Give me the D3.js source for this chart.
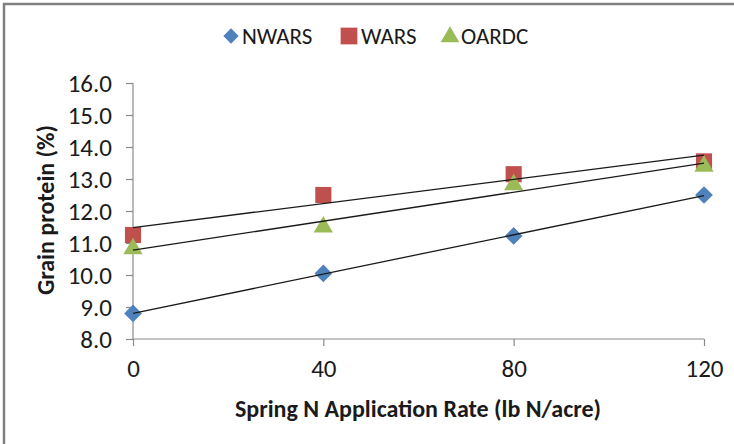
<!DOCTYPE html>
<html>
<head>
<meta charset="utf-8">
<script src="https://cdn.jsdelivr.net/npm/d3@7"></script>
<style>
  html, body { margin: 0; padding: 0; background: #fff; }
  svg { display: block; }
  text { font-family: Carlito, Calibri, Lato, "Open Sans", sans-serif; fill: #1a1a1a; }
</style>
</head>
<body>
<svg id="chart" width="734" height="444"></svg>
<script>
// ---- data ----
const rates = [0, 40, 80, 120];
const xTicks = [0, 40, 80, 120];
const yTicks = [8, 9, 10, 11, 12, 13, 14, 15, 16];
const seriesNames = ["NWARS", "WARS", "OARDC"];
const nwars = [8.8, 10.05, 11.22, 12.5];
const wars = [11.25, 12.5, 13.15, 13.55];
const oardc = [10.82, 11.5, 12.82, 13.4];
const seriesColors = ["#4F81BD", "#C0504D", "#9BBB59"];
const seriesShapes = [d3.symbolDiamond2, d3.symbolSquare, d3.symbolTriangle];
const xTitle = "Spring N Application Rate (lb N/acre)";
const yTitle = "Grain protein (%)";

const series = [nwars, wars, oardc].map((vals, i) => ({
  name: seriesNames[i], color: seriesColors[i], shape: seriesShapes[i],
  points: rates.map((r, j) => ({ x: r, y: vals[j] }))
}));

const svg = d3.select("#chart");

// outer frame (only left and top edges are visible in the reference)
svg.append("rect").attr("x", 4).attr("y", 4).attr("width", 800).attr("height", 600)
  .attr("fill", "none").attr("stroke", "#808080").attr("stroke-width", 2.5);

const x = d3.scaleLinear().domain([0, 120]).range([133, 704]);
const y = d3.scaleLinear().domain([8, 16]).range([339, 83]);

// axes
const axisColor = "#8a8a8a";
const gx = svg.append("g").attr("transform", `translate(0,${y(8)})`)
  .call(d3.axisBottom(x).tickValues(xTicks).tickFormat(d3.format("d")).tickSize(7).tickPadding(13));
const gy = svg.append("g").attr("transform", `translate(${x(0)},0)`)
  .call(d3.axisLeft(y).tickValues(yTicks).tickFormat(d3.format(".1f")).tickSize(7).tickPadding(14));
[gx, gy].forEach(g => {
  g.select(".domain").attr("stroke", axisColor).attr("stroke-width", 1.2);
  g.selectAll(".tick line").attr("stroke", axisColor).attr("stroke-width", 1.2);
  g.selectAll(".tick text").attr("font-size", 25).attr("fill", "#1a1a1a")
    .style("font-family", "Carlito, Calibri, Lato, sans-serif");
});
gx.select(".domain").attr("d", `M${x(0)},0H${x(120)}`);
gy.select(".domain").attr("d", `M0,${y(16)}V${y(8)}`);

// least-squares trendline per series
function trend(s) {
  const mx = d3.mean(s.points, p => p.x), my = d3.mean(s.points, p => p.y);
  const slope = d3.sum(s.points, p => (p.x - mx) * (p.y - my)) / d3.sum(s.points, p => (p.x - mx) ** 2);
  return { slope, b: my - slope * mx };
}

// markers
const sizes = [200, 260, 160];
series.forEach((s, i) => {
  svg.append("g").selectAll("path").data(s.points).join("path")
    .attr("d", d3.symbol().type(s.shape).size(sizes[i]))
    .attr("transform", p => `translate(${x(p.x)},${y(p.y)})`)
    .attr("fill", s.color);
});

// trendlines drawn over markers
series.forEach(s => {
  const t = trend(s);
  svg.append("line")
    .attr("x1", x(0)).attr("y1", y(t.b))
    .attr("x2", x(120)).attr("y2", y(t.b + t.slope * 120))
    .attr("stroke", "#1a1a1a").attr("stroke-width", 1.3);
});

// legend
const legendX = [231, 349, 450];
series.forEach((s, i) => {
  svg.append("path")
    .attr("d", d3.symbol().type(s.shape).size(i === 1 ? 280 : 150))
    .attr("transform", `translate(${legendX[i]},${i === 2 ? 37 : 36})`)
    .attr("fill", s.color);
  svg.append("text").attr("x", legendX[i] + (i === 1 ? 12 : 11)).attr("y", 36)
    .attr("dy", "0.35em").attr("font-size", 23).text(s.name);
});

// axis titles
svg.append("text").attr("x", 418).attr("y", 409).attr("dy", "0.35em")
  .attr("text-anchor", "middle").attr("font-size", 24).attr("font-weight", "bold").text(xTitle);
svg.append("text").attr("transform", "translate(46,210) rotate(-90)").attr("dy", "0.35em")
  .attr("text-anchor", "middle").attr("font-size", 24).attr("font-weight", "bold").text(yTitle);
</script>
</body>
</html>
